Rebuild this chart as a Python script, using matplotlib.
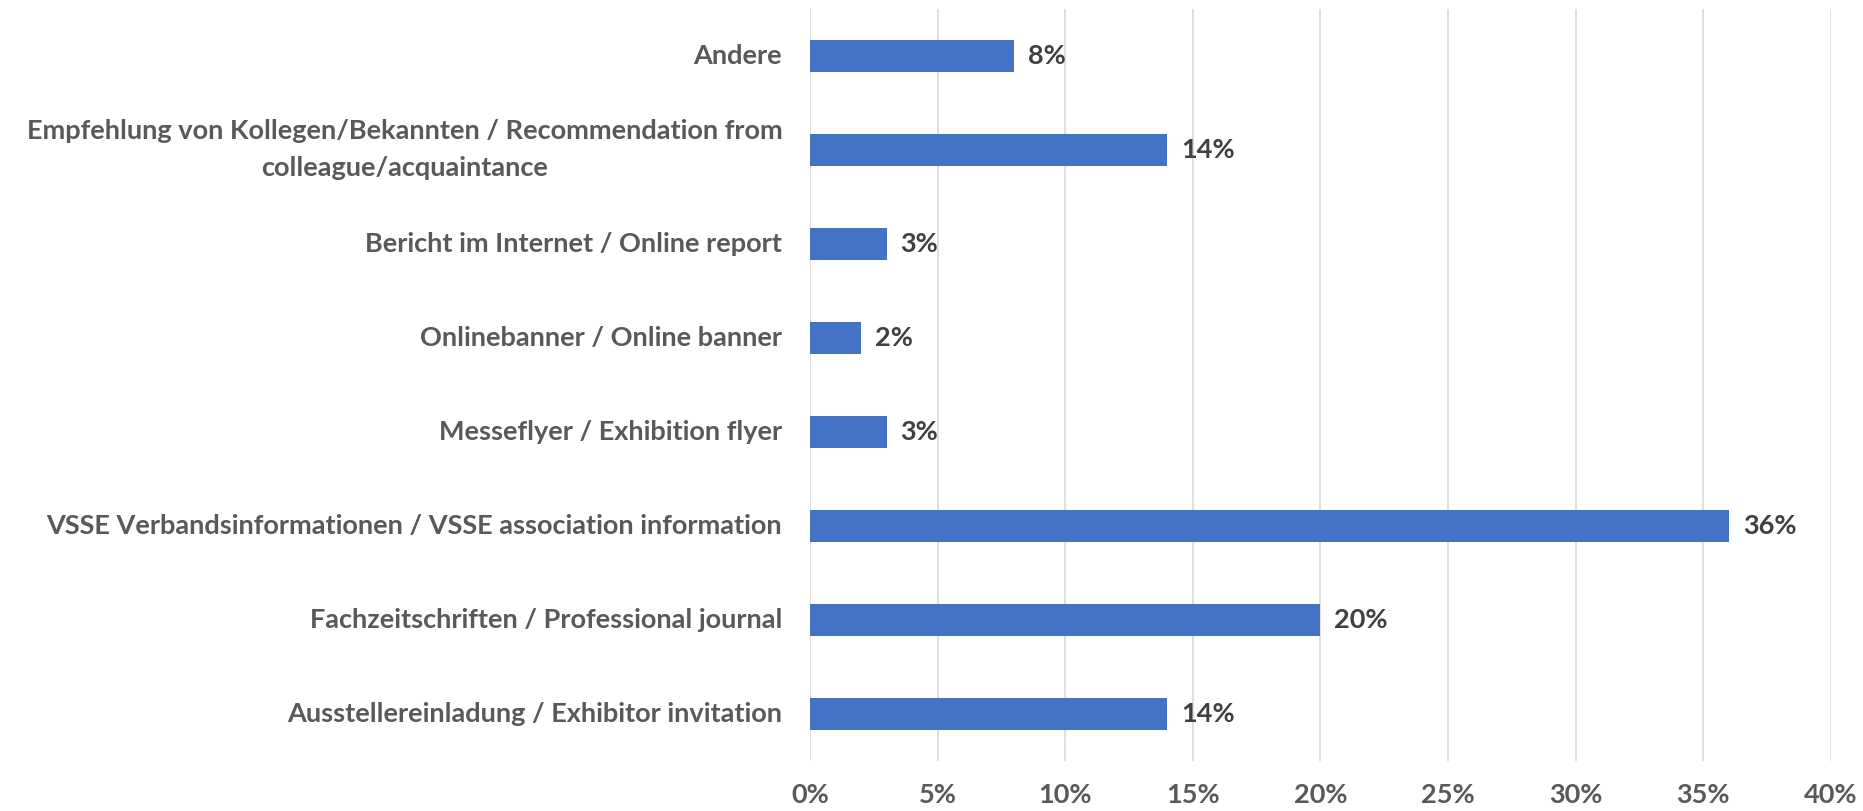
import matplotlib.pyplot as plt

categories = [
    "Andere",
    "Empfehlung von Kollegen/Bekannten / Recommendation from\ncolleague/acquaintance",
    "Bericht im Internet / Online report",
    "Onlinebanner / Online banner",
    "Messeflyer / Exhibition flyer",
    "VSSE Verbandsinformationen / VSSE association information",
    "Fachzeitschriften / Professional journal",
    "Ausstellereinladung / Exhibitor invitation",
]
values = [8, 14, 3, 2, 3, 36, 20, 14]
ticks = [0, 5, 10, 15, 20, 25, 30, 35, 40]
tick_labels = [f"{t}%" for t in ticks]

plt.rcParams['font.family'] = ['Lato', 'DejaVu Sans']
grey = '#595959'

fig = plt.figure(figsize=(18.63, 8.11), dpi=100)
ax = fig.add_axes([0.4348, 0.0617, 0.548, 0.9273])

pos = list(range(len(categories)))
ax.barh(pos, values, height=0.34, color='#4472C4', zorder=3)
for p, v in zip(pos, values):
    ax.annotate(f"{v}%", (v, p), xytext=(10, 0), textcoords='offset points',
                va='center', ha='left', fontsize=19.5, fontweight='bold', color='#404040')

ax.set_ylim(len(categories) - 0.5, -0.5)
ax.set_yticks(pos)
ax.set_yticklabels(categories, fontsize=19.5, fontweight='bold', color=grey,
                   ha='right', va='center', multialignment='center', linespacing=1.65)
ax.set_xlim(0, 40)
ax.set_xticks(ticks)
ax.set_xticklabels(tick_labels, fontsize=19.5, fontweight='bold', color=grey)
ax.tick_params(axis='both', length=0)
ax.tick_params(axis='y', pad=20)
ax.tick_params(axis='x', pad=16)
ax.grid(axis='x', color='#d9d9d9', linewidth=1.2, zorder=0)
for s in ax.spines.values():
    s.set_visible(False)

fig.savefig('out.png', dpi=100)
